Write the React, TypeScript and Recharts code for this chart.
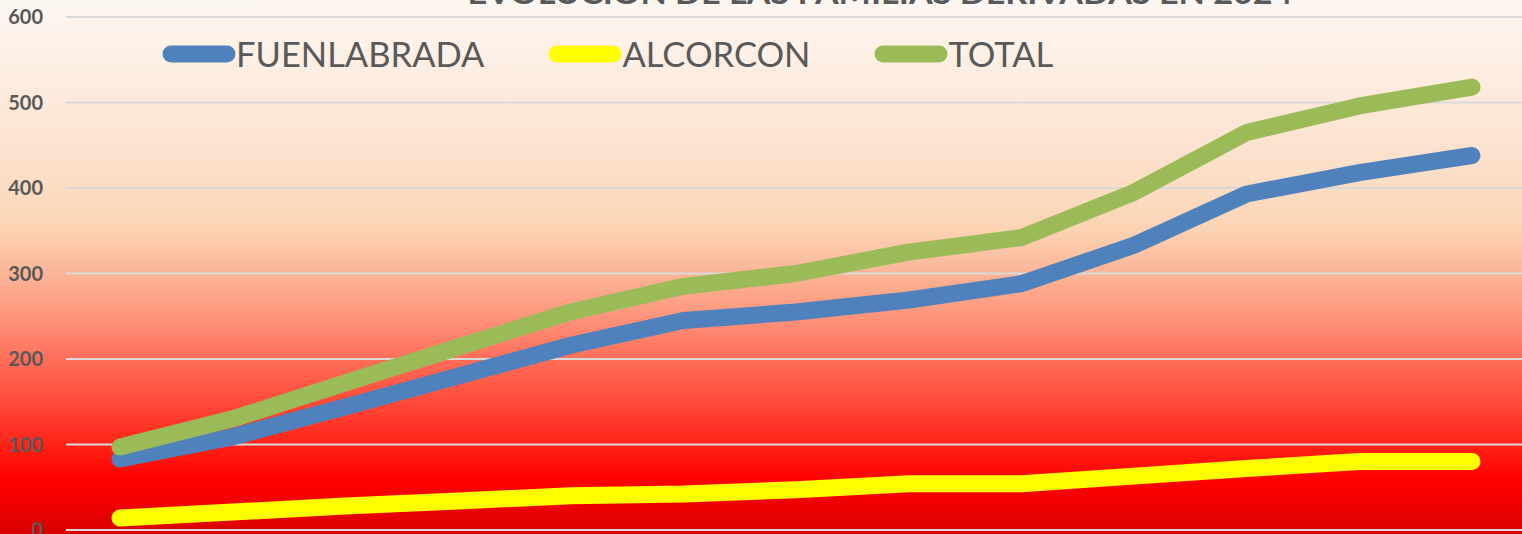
import React from "react";
import { LineChart, Line, XAxis, YAxis, CartesianGrid, Legend } from "recharts";

// 13 cortes del año (el eje X queda fuera del recorte)
const periods = ["1", "2", "3", "4", "5", "6", "7", "8", "9", "10", "11", "12", "13"];
const fuenlabrada = [83, 109, 144, 180, 216, 245, 255, 269, 288, 333, 393, 418, 438];
const alcorcon = [14, 21, 28, 34, 40, 42, 47, 54, 54, 63, 72, 80, 80];
const total = [97, 130, 172, 214, 255, 285, 300, 325, 342, 395, 465, 496, 518];
const yTicks = [0, 100, 200, 300, 400, 500, 600];
const seriesOrder = ["FUENLABRADA", "ALCORCON", "TOTAL"];

const title = "EVOLUCIÓN DE LAS FAMILIAS DERIVADAS EN 2024";

const data = periods.map((p, i) => ({
  name: p,
  FUENLABRADA: fuenlabrada[i],
  ALCORCON: alcorcon[i],
  TOTAL: total[i],
}));

const FONT = "Lato, 'Liberation Sans', sans-serif";
const GRAY = "#595959";

function LegendContent(props: any) {
  const items = [...(props.payload || [])].sort(
    (a: any, b: any) => seriesOrder.indexOf(a.value) - seriesOrder.indexOf(b.value)
  );
  return (
    <div style={{ display: "flex", alignItems: "center", gap: 64, fontFamily: FONT }}>
      {items.map((it: any) => (
        <div key={it.value} style={{ display: "flex", alignItems: "center" }}>
          <svg width={74} height={20}>
            <line x1={9} y1={10} x2={65} y2={10} stroke={it.color} strokeWidth={17} strokeLinecap="round" />
          </svg>
          <span style={{ fontSize: 34.5, color: GRAY, lineHeight: "40px" }}>{it.value}</span>
        </div>
      ))}
    </div>
  );
}

export default function App() {
  return (
    <div
      style={{
        position: "absolute",
        left: 0,
        top: 0,
        width: 1522,
        height: 534,
        overflow: "hidden",
        background:
          "linear-gradient(to bottom, #fdf7f2 0%, #fdeadc 18%, #fbdcc2 36%, #fbd3b3 43%, #fcb597 51%, #fd9a80 58%, #ff6b57 68%, #ff4233 77%, #ff1a10 85%, #fe0000 90%, #da0000 100%)",
      }}
    >
      <svg width={1522} height={534} style={{ position: "absolute", left: 0, top: 0 }}>
        <text
          x={880}
          y={4}
          textAnchor="middle"
          fontFamily={FONT}
          fontWeight="bold"
          fontSize={31}
          fill={GRAY}
          textLength={825}
          lengthAdjust="spacingAndGlyphs"
        >
          {title}
        </text>
      </svg>
      <div style={{ position: "absolute", left: 0, top: 0 }}>
        <LineChart width={1540} height={534} data={data} margin={{ top: 17, right: 14, bottom: 4, left: 0 }}>
          <CartesianGrid vertical={false} stroke="#d9d9d9" strokeWidth={2} />
          <XAxis dataKey="name" hide padding={{ left: 54, right: 54 }} />
          <YAxis
            width={66}
            domain={[0, 600]}
            ticks={yTicks}
            interval={0}
            axisLine={false}
            tickLine={false}
            tickSize={0}
            tickMargin={23}
            tick={{ fill: GRAY, fontSize: 20, fontWeight: "bold", fontFamily: FONT }}
          />
          <Legend
            verticalAlign="middle"
            align="center"
            content={<LegendContent />}
            wrapperStyle={{ position: "absolute", top: 34, left: 162, width: "auto" }}
          />
          <Line type="linear" dataKey="FUENLABRADA" stroke="#4f81bd" strokeWidth={17} strokeLinecap="round" strokeLinejoin="round" dot={false} isAnimationActive={false} />
          <Line type="linear" dataKey="ALCORCON" stroke="#ffff00" strokeWidth={17} strokeLinecap="round" strokeLinejoin="round" dot={false} isAnimationActive={false} />
          <Line type="linear" dataKey="TOTAL" stroke="#9bbb59" strokeWidth={17} strokeLinecap="round" strokeLinejoin="round" dot={false} isAnimationActive={false} />
        </LineChart>
      </div>
    </div>
  );
}
